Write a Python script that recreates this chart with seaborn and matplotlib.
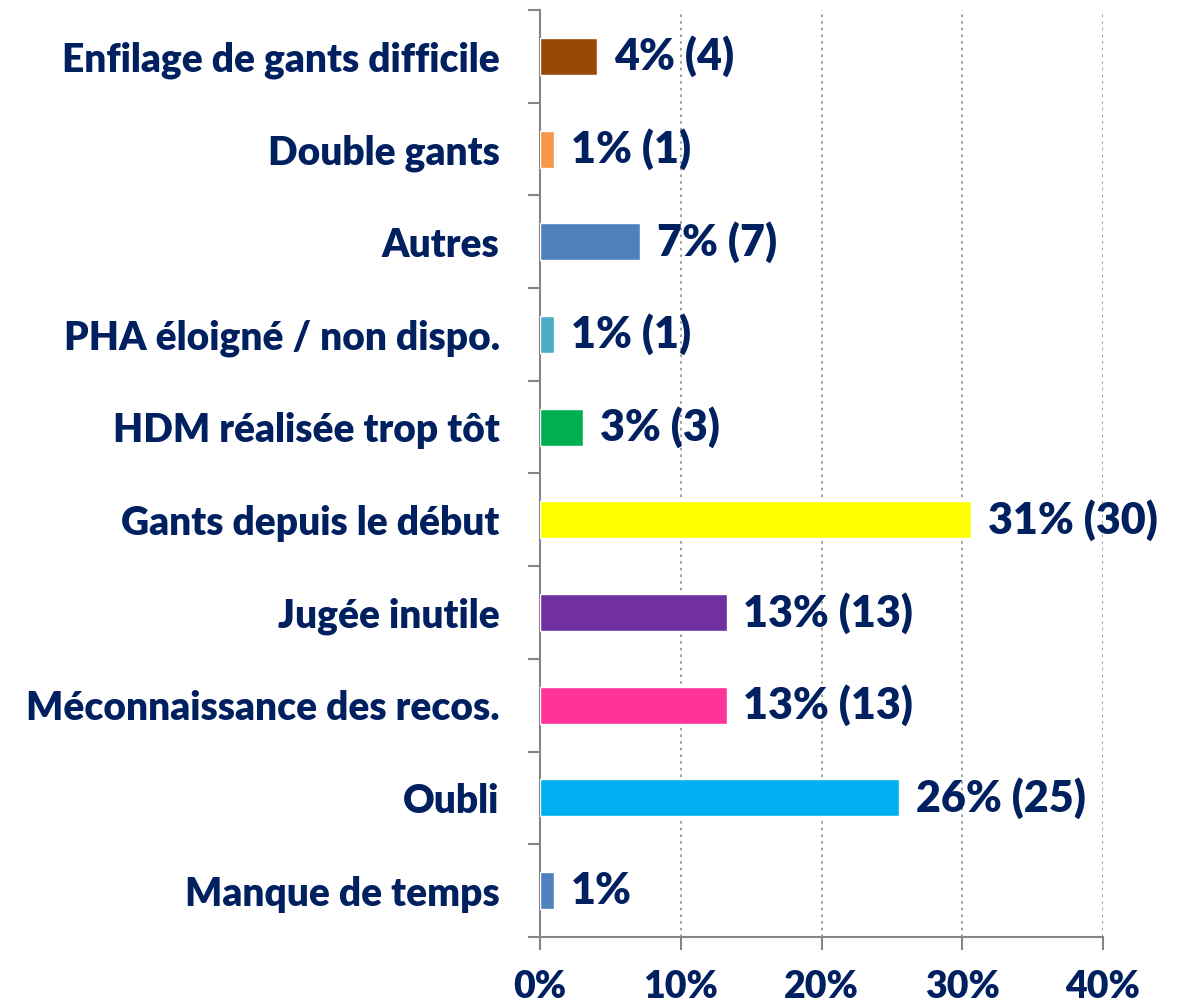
import matplotlib
matplotlib.use("Agg")
import matplotlib.pyplot as plt
import seaborn as sns
import pandas as pd
import numpy as np
from matplotlib.ticker import FixedLocator, PercentFormatter

categories = ["Enfilage de gants difficile", "Double gants", "Autres",
              "PHA éloigné / non dispo.", "HDM réalisée trop tôt",
              "Gants depuis le début", "Jugée inutile",
              "Méconnaissance des recos.", "Oubli", "Manque de temps"]
counts = [4, 1, 7, 1, 3, 30, 13, 13, 25, 1]
percents = [4.08, 1.02, 7.14, 1.02, 3.06, 30.61, 13.27, 13.27, 25.51, 1.02]
bar_labels = ["4% (4)", "1% (1)", "7% (7)", "1% (1)", "3% (3)", "31% (30)",
              "13% (13)", "13% (13)", "26% (25)", "1%"]
colors = ["#984807", "#F79646", "#4F81BD", "#4BACC6", "#00B050", "#FFFF00",
          "#7030A0", "#FF3399", "#00B0F0", "#4F81BD"]
xticks = [0, 10, 20, 30, 40]

df = pd.DataFrame({"cat": categories, "pct": percents})

sns.set_style("white")
plt.rcParams['font.family'] = ['Lato', 'DejaVu Sans']
navy = "#002060"
gray = "#868686"
W = "heavy"

fig = plt.figure(figsize=(11.85, 10.06), dpi=100)
ax = fig.add_axes([540/1185, 1 - 937/1006, (1103-540)/1185, (937-10)/1006])

sns.barplot(data=df, y="cat", x="pct", hue="cat", palette=colors, legend=False,
            width=0.40, ax=ax, saturation=1, zorder=3)

ax.set_xlim(0, 40)
ax.set_ylim(len(categories) - 0.5, -0.5)
ax.set_xlabel("")
ax.set_ylabel("")

ax.xaxis.set_major_locator(FixedLocator(xticks))
ax.xaxis.set_major_formatter(PercentFormatter(decimals=0))
ax.grid(axis="x", linestyle=(0, (1.5, 2.5)), color="#8c8c8c", linewidth=1.2, zorder=0)
ax.grid(axis="y", visible=False)
ax.set_axisbelow(True)

# y: major ticks at boundaries, labels on minor ticks at centers
ax.yaxis.set_major_locator(FixedLocator(np.arange(-0.5, len(categories), 1.0)))
ax.yaxis.set_major_formatter(plt.NullFormatter())
ax.yaxis.set_minor_locator(FixedLocator(np.arange(len(categories))))
ax.set_yticklabels(categories, minor=True)
ax.tick_params(axis="y", which="major", length=9, width=1.5, color=gray, direction="out", left=True)
ax.tick_params(axis="y", which="minor", length=0, pad=29, labelsize=28, labelcolor=navy)
for t in ax.get_yticklabels(minor=True):
    t.set_fontweight(W)

ax.tick_params(axis="x", which="major", length=9, width=1.5, color=gray, direction="out",
               bottom=True, pad=15, labelsize=27, labelcolor=navy)
for t in ax.get_xticklabels():
    t.set_fontweight(W)

for s in ["top", "right"]:
    ax.spines[s].set_visible(False)
for s in ["left", "bottom"]:
    ax.spines[s].set_color(gray)
    ax.spines[s].set_linewidth(1.5)

for i, (v, lab) in enumerate(zip(percents, bar_labels)):
    ax.annotate(lab, xy=(v, i), xytext=(12, 0), textcoords="offset points",
                ha="left", va="center", fontsize=31, fontweight=W, color=navy,
                annotation_clip=False)

fig.savefig("out.png", dpi=100)
